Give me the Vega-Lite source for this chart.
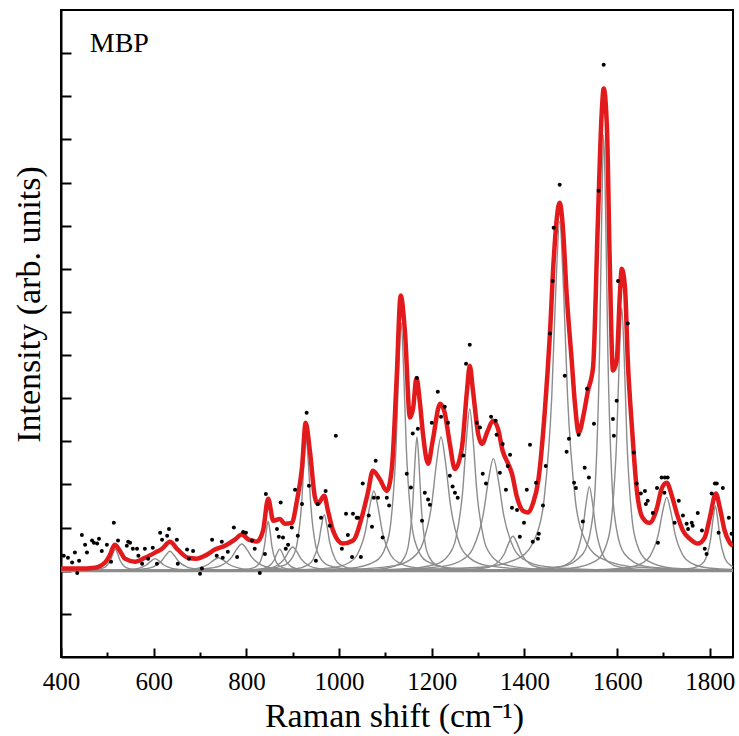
{
"$schema":"https://vega.github.io/schema/vega-lite/v6.json",
"width":672,"height":647,
"autosize":"none",
"padding":{"left":61,"top":10,"right":6,"bottom":79},
"background":"white",
"config":{"view":{"stroke":"black","strokeWidth":2},"font":"Liberation Serif",
"axis":{"domainColor":"black","domainWidth":2,"tickColor":"black","tickWidth":2,"grid":false,"labelFont":"Liberation Serif","labelColor":"black","titleFont":"Liberation Serif","titleColor":"black","titleFontWeight":"normal"}},
"datasets":{
"comp":[
{"c":1,"x":267,"y":0},{"c":1,"x":417,"y":0.005},{"c":1,"x":467,"y":0.019},{"c":1,"x":487,"y":0.05},{"c":1,"x":497,"y":0.1},{"c":1,"x":507,"y":0.25},{"c":1,"x":512,"y":0.4},{"c":1,"x":517,"y":0.5},{"c":1,"x":522,"y":0.4},{"c":1,"x":527,"y":0.25},{"c":1,"x":537,"y":0.1},{"c":1,"x":547,"y":0.05},{"c":1,"x":567,"y":0.019},{"c":1,"x":617,"y":0.005},{"c":1,"x":767,"y":0},
{"c":2,"x":153,"y":0},{"c":2,"x":423,"y":0.003},{"c":2,"x":513,"y":0.011},{"c":2,"x":549,"y":0.028},{"c":2,"x":567,"y":0.056},{"c":2,"x":585,"y":0.14},{"c":2,"x":594,"y":0.224},{"c":2,"x":603,"y":0.28},{"c":2,"x":612,"y":0.224},{"c":2,"x":621,"y":0.14},{"c":2,"x":639,"y":0.056},{"c":2,"x":657,"y":0.028},{"c":2,"x":693,"y":0.011},{"c":2,"x":783,"y":0.003},{"c":2,"x":1053,"y":0},
{"c":3,"x":185,"y":0},{"c":3,"x":455,"y":0.004},{"c":3,"x":545,"y":0.017},{"c":3,"x":581,"y":0.045},{"c":3,"x":599,"y":0.09},{"c":3,"x":617,"y":0.225},{"c":3,"x":626,"y":0.36},{"c":3,"x":635,"y":0.45},{"c":3,"x":644,"y":0.36},{"c":3,"x":653,"y":0.225},{"c":3,"x":671,"y":0.09},{"c":3,"x":689,"y":0.045},{"c":3,"x":725,"y":0.017},{"c":3,"x":815,"y":0.004},{"c":3,"x":1085,"y":0},
{"c":4,"x":190,"y":0},{"c":4,"x":520,"y":0.003},{"c":4,"x":630,"y":0.012},{"c":4,"x":674,"y":0.03},{"c":4,"x":696,"y":0.06},{"c":4,"x":718,"y":0.15},{"c":4,"x":729,"y":0.24},{"c":4,"x":740,"y":0.3},{"c":4,"x":751,"y":0.24},{"c":4,"x":762,"y":0.15},{"c":4,"x":784,"y":0.06},{"c":4,"x":806,"y":0.03},{"c":4,"x":850,"y":0.012},{"c":4,"x":960,"y":0.003},{"c":4,"x":1290,"y":0},
{"c":5,"x":240,"y":0},{"c":5,"x":570,"y":0.006},{"c":5,"x":680,"y":0.024},{"c":5,"x":724,"y":0.062},{"c":5,"x":746,"y":0.124},{"c":5,"x":768,"y":0.31},{"c":5,"x":779,"y":0.496},{"c":5,"x":790,"y":0.62},{"c":5,"x":801,"y":0.496},{"c":5,"x":812,"y":0.31},{"c":5,"x":834,"y":0.124},{"c":5,"x":856,"y":0.062},{"c":5,"x":900,"y":0.024},{"c":5,"x":1010,"y":0.006},{"c":5,"x":1340,"y":0},
{"c":6,"x":647,"y":0},{"c":6,"x":767,"y":0.011},{"c":6,"x":807,"y":0.044},{"c":6,"x":823,"y":0.115},{"c":6,"x":831,"y":0.23},{"c":6,"x":839,"y":0.575},{"c":6,"x":843,"y":0.92},{"c":6,"x":847,"y":1.15},{"c":6,"x":851,"y":0.92},{"c":6,"x":855,"y":0.575},{"c":6,"x":863,"y":0.23},{"c":6,"x":871,"y":0.115},{"c":6,"x":887,"y":0.044},{"c":6,"x":927,"y":0.011},{"c":6,"x":1047,"y":0},
{"c":7,"x":572,"y":0},{"c":7,"x":752,"y":0.005},{"c":7,"x":812,"y":0.019},{"c":7,"x":836,"y":0.05},{"c":7,"x":848,"y":0.1},{"c":7,"x":860,"y":0.25},{"c":7,"x":866,"y":0.4},{"c":7,"x":872,"y":0.5},{"c":7,"x":878,"y":0.4},{"c":7,"x":884,"y":0.25},{"c":7,"x":896,"y":0.1},{"c":7,"x":908,"y":0.05},{"c":7,"x":932,"y":0.019},{"c":7,"x":992,"y":0.005},{"c":7,"x":1172,"y":0},
{"c":8,"x":450,"y":0},{"c":8,"x":720,"y":0.005},{"c":8,"x":810,"y":0.021},{"c":8,"x":846,"y":0.055},{"c":8,"x":864,"y":0.11},{"c":8,"x":882,"y":0.275},{"c":8,"x":891,"y":0.44},{"c":8,"x":900,"y":0.55},{"c":8,"x":909,"y":0.44},{"c":8,"x":918,"y":0.275},{"c":8,"x":936,"y":0.11},{"c":8,"x":954,"y":0.055},{"c":8,"x":990,"y":0.021},{"c":8,"x":1080,"y":0.005},{"c":8,"x":1350,"y":0},
{"c":9,"x":679,"y":0},{"c":9,"x":829,"y":0.03},{"c":9,"x":879,"y":0.117},{"c":9,"x":899,"y":0.305},{"c":9,"x":909,"y":0.61},{"c":9,"x":919,"y":1.525},{"c":9,"x":924,"y":2.44},{"c":9,"x":929,"y":3.05},{"c":9,"x":934,"y":2.44},{"c":9,"x":939,"y":1.525},{"c":9,"x":949,"y":0.61},{"c":9,"x":959,"y":0.305},{"c":9,"x":979,"y":0.117},{"c":9,"x":1029,"y":0.03},{"c":9,"x":1179,"y":0},
{"c":10,"x":668,"y":0},{"c":10,"x":848,"y":0.013},{"c":10,"x":908,"y":0.05},{"c":10,"x":932,"y":0.13},{"c":10,"x":944,"y":0.26},{"c":10,"x":956,"y":0.65},{"c":10,"x":962,"y":1.04},{"c":10,"x":968,"y":1.3},{"c":10,"x":974,"y":1.04},{"c":10,"x":980,"y":0.65},{"c":10,"x":992,"y":0.26},{"c":10,"x":1004,"y":0.13},{"c":10,"x":1028,"y":0.05},{"c":10,"x":1088,"y":0.013},{"c":10,"x":1268,"y":0},
{"c":11,"x":625,"y":0},{"c":11,"x":895,"y":0.018},{"c":11,"x":985,"y":0.071},{"c":11,"x":1021,"y":0.185},{"c":11,"x":1039,"y":0.37},{"c":11,"x":1057,"y":0.925},{"c":11,"x":1066,"y":1.48},{"c":11,"x":1075,"y":1.85},{"c":11,"x":1084,"y":1.48},{"c":11,"x":1093,"y":0.925},{"c":11,"x":1111,"y":0.37},{"c":11,"x":1129,"y":0.185},{"c":11,"x":1165,"y":0.071},{"c":11,"x":1255,"y":0.018},{"c":11,"x":1525,"y":0},
{"c":12,"x":859,"y":0},{"c":12,"x":1024,"y":0.057},{"c":12,"x":1079,"y":0.221},{"c":12,"x":1101,"y":0.575},{"c":12,"x":1112,"y":1.15},{"c":12,"x":1123,"y":2.875},{"c":12,"x":1128.5,"y":4.6},{"c":12,"x":1134,"y":5.75},{"c":12,"x":1139.5,"y":4.6},{"c":12,"x":1145,"y":2.875},{"c":12,"x":1156,"y":1.15},{"c":12,"x":1167,"y":0.575},{"c":12,"x":1189,"y":0.221},{"c":12,"x":1244,"y":0.057},{"c":12,"x":1409,"y":0},
{"c":13,"x":943,"y":0},{"c":13,"x":1078,"y":0.031},{"c":13,"x":1123,"y":0.119},{"c":13,"x":1141,"y":0.31},{"c":13,"x":1150,"y":0.62},{"c":13,"x":1159,"y":1.55},{"c":13,"x":1163.5,"y":2.48},{"c":13,"x":1168,"y":3.1},{"c":13,"x":1172.5,"y":2.48},{"c":13,"x":1177,"y":1.55},{"c":13,"x":1186,"y":0.62},{"c":13,"x":1195,"y":0.31},{"c":13,"x":1213,"y":0.119},{"c":13,"x":1258,"y":0.031},{"c":13,"x":1393,"y":0},
{"c":14,"x":720,"y":0},{"c":14,"x":1020,"y":0.031},{"c":14,"x":1120,"y":0.119},{"c":14,"x":1160,"y":0.31},{"c":14,"x":1180,"y":0.62},{"c":14,"x":1200,"y":1.55},{"c":14,"x":1210,"y":2.48},{"c":14,"x":1220,"y":3.1},{"c":14,"x":1230,"y":2.48},{"c":14,"x":1240,"y":1.55},{"c":14,"x":1260,"y":0.62},{"c":14,"x":1280,"y":0.31},{"c":14,"x":1320,"y":0.119},{"c":14,"x":1420,"y":0.031},{"c":14,"x":1720,"y":0},
{"c":15,"x":907,"y":0},{"c":15,"x":1132,"y":0.037},{"c":15,"x":1207,"y":0.144},{"c":15,"x":1237,"y":0.375},{"c":15,"x":1252,"y":0.75},{"c":15,"x":1267,"y":1.875},{"c":15,"x":1274.5,"y":3.0},{"c":15,"x":1282,"y":3.75},{"c":15,"x":1289.5,"y":3.0},{"c":15,"x":1297,"y":1.875},{"c":15,"x":1312,"y":0.75},{"c":15,"x":1327,"y":0.375},{"c":15,"x":1357,"y":0.144},{"c":15,"x":1432,"y":0.037},{"c":15,"x":1657,"y":0},
{"c":16,"x":783,"y":0},{"c":16,"x":1113,"y":0.026},{"c":16,"x":1223,"y":0.1},{"c":16,"x":1267,"y":0.26},{"c":16,"x":1289,"y":0.52},{"c":16,"x":1311,"y":1.3},{"c":16,"x":1322,"y":2.08},{"c":16,"x":1333,"y":2.6},{"c":16,"x":1344,"y":2.08},{"c":16,"x":1355,"y":1.3},{"c":16,"x":1377,"y":0.52},{"c":16,"x":1399,"y":0.26},{"c":16,"x":1443,"y":0.1},{"c":16,"x":1553,"y":0.026},{"c":16,"x":1883,"y":0},
{"c":17,"x":925,"y":0},{"c":17,"x":1195,"y":0.008},{"c":17,"x":1285,"y":0.031},{"c":17,"x":1321,"y":0.08},{"c":17,"x":1339,"y":0.16},{"c":17,"x":1357,"y":0.4},{"c":17,"x":1366,"y":0.64},{"c":17,"x":1375,"y":0.8},{"c":17,"x":1384,"y":0.64},{"c":17,"x":1393,"y":0.4},{"c":17,"x":1411,"y":0.16},{"c":17,"x":1429,"y":0.08},{"c":17,"x":1465,"y":0.031},{"c":17,"x":1555,"y":0.008},{"c":17,"x":1825,"y":0},
{"c":18,"x":1051,"y":0},{"c":18,"x":1306,"y":0.08},{"c":18,"x":1391,"y":0.312},{"c":18,"x":1425,"y":0.81},{"c":18,"x":1442,"y":1.62},{"c":18,"x":1459,"y":4.05},{"c":18,"x":1467.5,"y":6.48},{"c":18,"x":1476,"y":8.1},{"c":18,"x":1484.5,"y":6.48},{"c":18,"x":1493,"y":4.05},{"c":18,"x":1510,"y":1.62},{"c":18,"x":1527,"y":0.81},{"c":18,"x":1561,"y":0.312},{"c":18,"x":1646,"y":0.08},{"c":18,"x":1901,"y":0},
{"c":19,"x":1190,"y":0},{"c":19,"x":1400,"y":0.019},{"c":19,"x":1470,"y":0.075},{"c":19,"x":1498,"y":0.195},{"c":19,"x":1512,"y":0.39},{"c":19,"x":1526,"y":0.975},{"c":19,"x":1533,"y":1.56},{"c":19,"x":1540,"y":1.95},{"c":19,"x":1547,"y":1.56},{"c":19,"x":1554,"y":0.975},{"c":19,"x":1568,"y":0.39},{"c":19,"x":1582,"y":0.195},{"c":19,"x":1610,"y":0.075},{"c":19,"x":1680,"y":0.019},{"c":19,"x":1890,"y":0},
{"c":20,"x":1346,"y":0},{"c":20,"x":1481,"y":0.1},{"c":20,"x":1526,"y":0.389},{"c":20,"x":1544,"y":1.01},{"c":20,"x":1553,"y":2.02},{"c":20,"x":1562,"y":5.05},{"c":20,"x":1566.5,"y":8.08},{"c":20,"x":1571,"y":10.1},{"c":20,"x":1575.5,"y":8.08},{"c":20,"x":1580,"y":5.05},{"c":20,"x":1589,"y":2.02},{"c":20,"x":1598,"y":1.01},{"c":20,"x":1616,"y":0.389},{"c":20,"x":1661,"y":0.1},{"c":20,"x":1796,"y":0},
{"c":21,"x":1335,"y":0},{"c":21,"x":1500,"y":0.061},{"c":21,"x":1555,"y":0.235},{"c":21,"x":1577,"y":0.61},{"c":21,"x":1588,"y":1.22},{"c":21,"x":1599,"y":3.05},{"c":21,"x":1604.5,"y":4.88},{"c":21,"x":1610,"y":6.1},{"c":21,"x":1615.5,"y":4.88},{"c":21,"x":1621,"y":3.05},{"c":21,"x":1632,"y":1.22},{"c":21,"x":1643,"y":0.61},{"c":21,"x":1665,"y":0.235},{"c":21,"x":1720,"y":0.061},{"c":21,"x":1885,"y":0},
{"c":22,"x":1257,"y":0},{"c":22,"x":1527,"y":0.017},{"c":22,"x":1617,"y":0.065},{"c":22,"x":1653,"y":0.17},{"c":22,"x":1671,"y":0.34},{"c":22,"x":1689,"y":0.85},{"c":22,"x":1698,"y":1.36},{"c":22,"x":1707,"y":1.7},{"c":22,"x":1716,"y":1.36},{"c":22,"x":1725,"y":0.85},{"c":22,"x":1743,"y":0.34},{"c":22,"x":1761,"y":0.17},{"c":22,"x":1797,"y":0.065},{"c":22,"x":1887,"y":0.017},{"c":22,"x":2157,"y":0},
{"c":23,"x":1562,"y":0},{"c":23,"x":1712,"y":0.015},{"c":23,"x":1762,"y":0.058},{"c":23,"x":1782,"y":0.15},{"c":23,"x":1792,"y":0.3},{"c":23,"x":1802,"y":0.75},{"c":23,"x":1807,"y":1.2},{"c":23,"x":1812,"y":1.5},{"c":23,"x":1817,"y":1.2},{"c":23,"x":1822,"y":0.75},{"c":23,"x":1832,"y":0.3},{"c":23,"x":1842,"y":0.15},{"c":23,"x":1862,"y":0.058},{"c":23,"x":1912,"y":0.015},{"c":23,"x":2062,"y":0}
],
"base":[{"x":400,"y":0},{"x":1850,"y":0}],
"fit":[
{"x":400,"y":0.05},{"x":440,"y":0.05},{"x":473,"y":0.07},{"x":495,"y":0.19},{"x":505,"y":0.35},{"x":516,"y":0.6},{"x":527,"y":0.46},{"x":538,"y":0.28},{"x":560,"y":0.21},{"x":581,"y":0.3},{"x":603,"y":0.42},{"x":618,"y":0.51},{"x":635,"y":0.67},{"x":652,"y":0.49},{"x":674,"y":0.3},{"x":693,"y":0.28},{"x":711,"y":0.35},{"x":732,"y":0.49},{"x":754,"y":0.58},{"x":775,"y":0.72},{"x":790,"y":0.84},{"x":805,"y":0.72},{"x":823,"y":0.68},{"x":836,"y":0.93},{"x":847,"y":1.67},{"x":858,"y":1.16},{"x":872,"y":1.2},{"x":883,"y":1.09},{"x":898,"y":1.11},{"x":909,"y":1.62},{"x":920,"y":2.39},{"x":928,"y":3.43},{"x":937,"y":2.78},{"x":948,"y":1.7},{"x":954,"y":1.55},{"x":968,"y":1.74},{"x":976,"y":1.39},{"x":987,"y":0.93},{"x":1008,"y":0.63},{"x":1030,"y":0.7},{"x":1051,"y":1.32},{"x":1062,"y":1.8},{"x":1073,"y":2.32},{"x":1088,"y":2.12},{"x":1103,"y":1.85},{"x":1114,"y":2.39},{"x":1124,"y":4.4},{"x":1133,"y":6.38},{"x":1142,"y":5.56},{"x":1153,"y":3.55},{"x":1160,"y":3.78},{"x":1167,"y":4.47},{"x":1174,"y":3.94},{"x":1181,"y":3.18},{"x":1192,"y":2.48},{"x":1202,"y":3.01},{"x":1218,"y":3.87},{"x":1228,"y":3.66},{"x":1239,"y":2.94},{"x":1250,"y":2.36},{"x":1265,"y":2.85},{"x":1276,"y":4.17},{"x":1282,"y":4.75},{"x":1289,"y":4.17},{"x":1300,"y":3.18},{"x":1308,"y":2.94},{"x":1321,"y":3.25},{"x":1332,"y":3.48},{"x":1343,"y":3.29},{"x":1353,"y":2.78},{"x":1364,"y":2.5},{"x":1373,"y":2.25},{"x":1384,"y":1.7},{"x":1397,"y":1.39},{"x":1408,"y":1.35},{"x":1418,"y":1.55},{"x":1430,"y":2.1},{"x":1444,"y":3.71},{"x":1455,"y":5.5},{"x":1463,"y":7.19},{"x":1476,"y":8.53},{"x":1483,"y":7.95},{"x":1491,"y":6.42},{"x":1502,"y":4.87},{"x":1509,"y":3.87},{"x":1517,"y":3.2},{"x":1528,"y":3.64},{"x":1537,"y":4.17},{"x":1548,"y":4.71},{"x":1558,"y":7.95},{"x":1567,"y":10.67},{"x":1571,"y":11.18},{"x":1578,"y":10.27},{"x":1584,"y":7.19},{"x":1591,"y":4.64},{"x":1599,"y":4.87},{"x":1606,"y":6.42},{"x":1610,"y":7.0},{"x":1617,"y":6.56},{"x":1623,"y":4.87},{"x":1632,"y":3.32},{"x":1642,"y":1.92},{"x":1655,"y":1.23},{"x":1670,"y":1.11},{"x":1686,"y":1.46},{"x":1696,"y":1.9},{"x":1707,"y":2.04},{"x":1718,"y":1.74},{"x":1729,"y":1.32},{"x":1742,"y":0.93},{"x":1757,"y":0.74},{"x":1774,"y":0.63},{"x":1789,"y":0.77},{"x":1800,"y":1.23},{"x":1813,"y":1.79},{"x":1822,"y":1.44},{"x":1832,"y":0.93},{"x":1843,"y":0.65},{"x":1850,"y":0.58}
],
"dots":[
{"x":406,"y":0.35},{"x":415,"y":0.3},{"x":424,"y":0.19},{"x":430,"y":0.42},{"x":435,"y":-0.05},{"x":439,"y":0.23},{"x":445,"y":0.83},{"x":452,"y":0.6},{"x":456,"y":0.42},{"x":467,"y":0.7},{"x":471,"y":0.65},{"x":478,"y":0.63},{"x":482,"y":0.74},{"x":488,"y":0.46},{"x":499,"y":0.6},{"x":508,"y":0.21},{"x":514,"y":1.11},{"x":523,"y":0.7},{"x":542,"y":0.58},{"x":545,"y":0.67},{"x":549,"y":0.65},{"x":555,"y":0.51},{"x":564,"y":0.51},{"x":567,"y":0.35},{"x":575,"y":0.16},{"x":581,"y":0.51},{"x":588,"y":0.28},{"x":598,"y":0.53},{"x":607,"y":0.16},{"x":614,"y":0.88},{"x":618,"y":0.72},{"x":629,"y":0.81},{"x":633,"y":0.97},{"x":650,"y":0.72},{"x":652,"y":0.16},{"x":672,"y":0.49},{"x":676,"y":0.28},{"x":685,"y":0.46},{"x":700,"y":-0.07},{"x":704,"y":0.05},{"x":726,"y":0.72},{"x":736,"y":0.35},{"x":747,"y":0.67},{"x":749,"y":0.3},{"x":760,"y":0.44},{"x":773,"y":1.0},{"x":780,"y":0.32},{"x":793,"y":0.9},{"x":799,"y":0.88},{"x":812,"y":0.7},{"x":818,"y":0.51},{"x":829,"y":-0.05},{"x":840,"y":0.39},{"x":842,"y":1.78},{"x":866,"y":0.97},{"x":870,"y":0.79},{"x":874,"y":1.58},{"x":879,"y":0.77},{"x":885,"y":0.51},{"x":890,"y":0.6},{"x":898,"y":1.0},{"x":905,"y":1.88},{"x":911,"y":0.81},{"x":920,"y":1.55},{"x":930,"y":3.66},{"x":935,"y":1.97},{"x":950,"y":0.23},{"x":954,"y":1.55},{"x":961,"y":1.23},{"x":971,"y":1.85},{"x":980,"y":1.04},{"x":993,"y":3.13},{"x":1006,"y":0.51},{"x":1015,"y":1.32},{"x":1019,"y":0.83},{"x":1028,"y":0.32},{"x":1030,"y":1.32},{"x":1038,"y":1.23},{"x":1041,"y":1.23},{"x":1047,"y":0.32},{"x":1051,"y":2.02},{"x":1064,"y":1.28},{"x":1071,"y":1.02},{"x":1075,"y":1.69},{"x":1079,"y":2.55},{"x":1084,"y":1.69},{"x":1094,"y":0.77},{"x":1103,"y":1.69},{"x":1108,"y":1.51},{"x":1146,"y":2.25},{"x":1155,"y":1.93},{"x":1159,"y":3.18},{"x":1168,"y":4.47},{"x":1170,"y":3.29},{"x":1179,"y":1.16},{"x":1185,"y":1.81},{"x":1192,"y":1.65},{"x":1196,"y":1.53},{"x":1200,"y":3.43},{"x":1213,"y":4.15},{"x":1220,"y":3.57},{"x":1228,"y":3.8},{"x":1235,"y":3.43},{"x":1239,"y":2.2},{"x":1245,"y":1.95},{"x":1250,"y":1.81},{"x":1256,"y":1.69},{"x":1268,"y":2.67},{"x":1274,"y":4.8},{"x":1282,"y":5.24},{"x":1297,"y":3.43},{"x":1304,"y":3.32},{"x":1310,"y":2.25},{"x":1317,"y":2.02},{"x":1328,"y":3.57},{"x":1338,"y":3.48},{"x":1340,"y":3.15},{"x":1347,"y":2.27},{"x":1353,"y":2.94},{"x":1360,"y":1.88},{"x":1364,"y":2.43},{"x":1369,"y":2.69},{"x":1373,"y":1.46},{"x":1384,"y":1.41},{"x":1390,"y":0.79},{"x":1399,"y":1.11},{"x":1405,"y":1.88},{"x":1412,"y":2.92},{"x":1418,"y":0.67},{"x":1425,"y":2.04},{"x":1429,"y":0.74},{"x":1431,"y":0.86},{"x":1440,"y":1.51},{"x":1446,"y":2.43},{"x":1455,"y":5.5},{"x":1461,"y":6.72},{"x":1463,"y":7.95},{"x":1476,"y":8.95},{"x":1487,"y":4.52},{"x":1491,"y":2.76},{"x":1496,"y":3.06},{"x":1507,"y":2.04},{"x":1511,"y":1.92},{"x":1517,"y":3.15},{"x":1526,"y":1.14},{"x":1530,"y":2.39},{"x":1535,"y":4.22},{"x":1539,"y":2.16},{"x":1550,"y":3.41},{"x":1560,"y":8.81},{"x":1571,"y":11.73},{"x":1591,"y":3.52},{"x":1593,"y":3.13},{"x":1599,"y":3.94},{"x":1602,"y":6.72},{"x":1623,"y":5.73},{"x":1636,"y":2.74},{"x":1642,"y":2.02},{"x":1651,"y":1.79},{"x":1660,"y":1.85},{"x":1662,"y":1.55},{"x":1666,"y":1.62},{"x":1677,"y":1.34},{"x":1686,"y":1.92},{"x":1688,"y":0.65},{"x":1696,"y":2.16},{"x":1702,"y":1.81},{"x":1703,"y":2.16},{"x":1709,"y":2.16},{"x":1724,"y":1.11},{"x":1733,"y":1.62},{"x":1742,"y":1.28},{"x":1750,"y":1.09},{"x":1753,"y":0.97},{"x":1761,"y":1.11},{"x":1763,"y":1.04},{"x":1774,"y":1.34},{"x":1783,"y":0.93},{"x":1789,"y":0.51},{"x":1793,"y":0.39},{"x":1804,"y":1.79},{"x":1811,"y":2.02},{"x":1815,"y":2.02},{"x":1819,"y":0.88},{"x":1828,"y":1.92},{"x":1841,"y":1.23},{"x":1847,"y":0.86}
],
"label":[{"x":462,"y":12.03,"t":"MBP"}]
},
"encoding":{
"x":{"field":"x","type":"quantitative","scale":{"domain":[400,1850],"nice":false,"zero":false},
"axis":{"title":"Raman shift (cm⁻¹)","values":[400,500,600,700,800,900,1000,1100,1200,1300,1400,1500,1600,1700,1800],"format":"d","labelFlush":false,"labelExpr":"datum.value % 200 == 0 ? datum.label : ''","tickSize":{"condition":{"test":"datum.value % 200 == 0","value":-9},"value":-5},"labelFontSize":25,"labelPadding":21,"titleFontSize":34,"titleX":333,"titleY":69,"titleAlign":"center","titleBaseline":"alphabetic"}},
"y":{"field":"y","type":"quantitative","scale":{"domain":[-2,13],"nice":false,"zero":false},
"axis":{"title":"Intensity (arb. units)","values":[-1,0,1,2,3,4,5,6,7,8,9,10,11,12],"labels":false,"tickSize":-10,"titleFontSize":34,"titleX":-22,"titleY":294,"titleAngle":-90,"titleAlign":"center","titleBaseline":"alphabetic"}}
},
"layer":[
{"data":{"name":"comp"},"mark":{"type":"line","color":"#8c8c8c","strokeWidth":1.4,"interpolate":"monotone","clip":true},"encoding":{"detail":{"field":"c","type":"nominal"}}},
{"data":{"name":"base"},"mark":{"type":"line","color":"#8c8c8c","strokeWidth":3,"clip":true},"encoding":{}},
{"data":{"name":"fit"},"mark":{"type":"line","color":"#e31a1c","strokeWidth":4.5,"interpolate":"monotone","clip":true},"encoding":{}},
{"data":{"name":"dots"},"mark":{"type":"point","filled":true,"color":"black","size":16,"opacity":1,"clip":true},"encoding":{}},
{"data":{"name":"label"},"mark":{"type":"text","align":"left","baseline":"alphabetic","fontSize":28,"font":"Liberation Serif","color":"black"},"encoding":{"text":{"field":"t"}}}
]
}
